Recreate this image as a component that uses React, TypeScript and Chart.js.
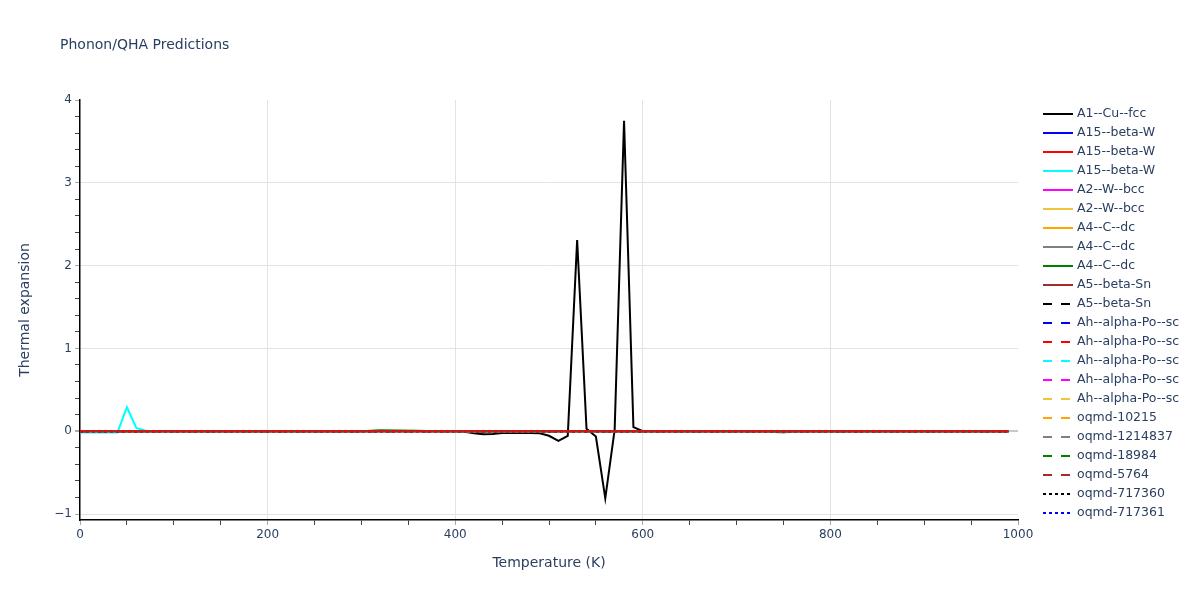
import React, { useEffect, useRef } from "react";
import { Chart, registerables } from "chart.js";

Chart.register(...registerables);

// ---------- data ----------
const seriesNames = [
  "A1--Cu--fcc",
  "A15--beta-W",
  "A15--beta-W",
  "A15--beta-W",
  "A2--W--bcc",
  "A2--W--bcc",
  "A4--C--dc",
  "A4--C--dc",
  "A4--C--dc",
  "A5--beta-Sn",
  "A5--beta-Sn",
  "Ah--alpha-Po--sc",
  "Ah--alpha-Po--sc",
  "Ah--alpha-Po--sc",
  "Ah--alpha-Po--sc",
  "Ah--alpha-Po--sc",
  "oqmd-10215",
  "oqmd-1214837",
  "oqmd-18984",
  "oqmd-5764",
  "oqmd-717360",
  "oqmd-717361",
];
const seriesColors = [
  "#000000", "#0000ff", "#ff0000", "#00ffff", "#ff00ff", "#f0c43c", "#ffa500", "#808080", "#008000", "#a52a2a",
  "#000000", "#0000ff", "#ff0000", "#00ffff", "#ff00ff", "#f0c43c", "#ffa500", "#808080", "#008000", "#a52a2a",
  "#000000", "#0000ff",
];
const seriesDash = [
  "solid", "solid", "solid", "solid", "solid", "solid", "solid", "solid", "solid", "solid",
  "dash", "dash", "dash", "dash", "dash", "dash", "dash", "dash", "dash", "dash",
  "dot", "dot",
];

// A1--Cu--fcc
const cuTemps = [0, 400, 410, 420, 430, 440, 450, 460, 470, 480, 490, 500, 510, 520, 530, 540, 550, 560, 570, 580, 590, 600, 610, 720, 730, 740, 750, 760, 770, 990];
const cuValues = [0, 0, -0.005, -0.025, -0.035, -0.032, -0.022, -0.02, -0.02, -0.022, -0.025, -0.055, -0.116, -0.055, 2.31, 0.03, -0.064, -0.81, 0.02, 3.75, 0.05, 0.0, 0, 0, -0.004, -0.01, -0.013, -0.006, 0, 0];

// A15--beta-W (cyan)
const cyanTemps = [0, 10, 20, 30, 40, 50, 60, 70, 80, 990];
const cyanValues = [-0.015, -0.015, -0.015, -0.015, -0.015, 0.29, 0.04, 0.005, 0, 0];

// A4--C--dc (green)
const greenTemps = [0, 300, 320, 340, 360, 380, 990];
const greenValues = [0, 0, 0.012, 0.01, 0.006, 0, 0];

// flat series
const flatTemps = [0, 990];
const flatValues = [0, 0];

const xTickLabels = [0, 200, 400, 600, 800, 1000];
const xTickPositions = [0, 50, 100, 150, 200, 250, 300, 350, 400, 450, 500, 550, 600, 650, 700, 750, 800, 850, 900, 950, 1000];
const yTickLabels = [-1, 0, 1, 2, 3, 4];
const yTickPositions = [-1, -0.8, -0.6, -0.4, -0.2, 0, 0.2, 0.4, 0.6, 0.8, 1, 1.2, 1.4, 1.6, 1.8, 2, 2.2, 2.4, 2.6, 2.8, 3, 3.2, 3.4, 3.6, 3.8, 4];

// ---------- helpers ----------
const FONT = "'DejaVu Sans', Verdana, sans-serif";
const TEXT = "#2a3f5f";

function dashFor(style: string, i: number): number[] {
  if (i === 12) return [3, 3];
  if (style === "dash") return [9, 9];
  if (style === "dot") return [3, 3];
  return [];
}

function pts(t: number[], v: number[]) {
  return t.map((x, i) => ({ x, y: v[i] }));
}

function dataFor(i: number) {
  if (i === 0) return pts(cuTemps, cuValues);
  if (i === 3) return pts(cyanTemps, cyanValues);
  if (i === 8) return pts(greenTemps, greenValues);
  return pts(flatTemps, flatValues);
}

// drawing order: lower order -> on top (later traces on top, red dashed topmost over brown)
function orderFor(i: number) {
  if (i === 12) return -2;
  if (i === 9) return -1;
  return 22 - i;
}

const isNear = (v: number, list: number[]) => list.some((l) => Math.abs(v - l) < 1e-6);

const overlayPlugin = {
  id: "overlay",
  afterDraw(chart: any) {
    const ctx = chart.ctx as CanvasRenderingContext2D;
    const area = chart.chartArea;
    ctx.save();
    ctx.fillStyle = TEXT;
    ctx.font = `14px ${FONT}`;
    ctx.textAlign = "left";
    ctx.textBaseline = "middle";
    ctx.fillText("Phonon/QHA Predictions", 60, 45);
    ctx.textAlign = "center";
    ctx.fillText("Temperature (K)", (area.left + area.right) / 2, 563);
    ctx.save();
    ctx.translate(25, (area.top + area.bottom) / 2);
    ctx.rotate(-Math.PI / 2);
    ctx.fillText("Thermal expansion", 0, 0);
    ctx.restore();
    // legend
    ctx.font = `12.5px ${FONT}`;
    ctx.textAlign = "left";
    chart.data.datasets.forEach((ds: any, i: number) => {
      const y = 114 + 19 * i;
      ctx.beginPath();
      ctx.setLineDash(seriesDash[i] === "dash" ? [9, 9] : seriesDash[i] === "dot" ? [3, 3] : []);
      ctx.strokeStyle = ds.borderColor;
      ctx.lineWidth = 2;
      ctx.moveTo(1043, y);
      ctx.lineTo(1073, y);
      ctx.stroke();
      ctx.setLineDash([]);
      ctx.fillStyle = TEXT;
      ctx.fillText(ds.label, 1077, y);
    });
    ctx.restore();
  },
};

export default function App() {
  const ref = useRef<HTMLCanvasElement | null>(null);
  useEffect(() => {
    if (!ref.current) return;
    const datasets = seriesNames.map((name, i) => ({
      label: name,
      data: dataFor(i),
      borderColor: seriesColors[i],
      backgroundColor: seriesColors[i],
      borderWidth: 2,
      borderDash: dashFor(seriesDash[i], i),
      pointRadius: 0,
      fill: false,
      tension: 0,
      order: orderFor(i),
    }));
    const chart = new Chart(ref.current, {
      type: "line",
      data: { datasets },
      options: {
        responsive: false,
        animation: false,
        layout: { padding: { top: 100, right: 182, left: 0, bottom: 0 } },
        plugins: {
          legend: { display: false },
          title: { display: false },
          tooltip: { enabled: false },
        },
        scales: {
          x: {
            type: "linear",
            min: 0,
            max: 1000,
            afterBuildTicks: (s: any) => {
              s.ticks = xTickPositions.map((v) => ({ value: v }));
            },
            afterFit: (s: any) => {
              s.height = 80;
            },
            border: { color: "#000", width: 1.5 },
            grid: {
              color: (c: any) =>
                c.tick && isNear(c.tick.value, xTickLabels) && c.tick.value > 0 && c.tick.value < 1000 ? "#e3e3e3" : "rgba(0,0,0,0)",
              tickColor: (c: any) => (c.tick && isNear(c.tick.value, xTickLabels) ? "#aaaaaa" : "#444444"),
              tickLength: 5,
              lineWidth: 1,
            },
            ticks: {
              autoSkip: false,
              maxRotation: 0,
              padding: 3,
              color: TEXT,
              font: { family: FONT, size: 12 },
              callback: (v: any) => (isNear(Number(v), xTickLabels) ? String(Math.round(Number(v))) : ""),
            },
          },
          y: {
            type: "linear",
            min: -1.072,
            max: 4,
            afterBuildTicks: (s: any) => {
              s.ticks = yTickPositions.map((v) => ({ value: v }));
            },
            afterFit: (s: any) => {
              s.width = 80;
            },
            border: { color: "#000", width: 1.5 },
            grid: {
              color: (c: any) => {
                if (!c.tick) return "rgba(0,0,0,0)";
                const v = c.tick.value;
                if (Math.abs(v - 4) < 1e-6) return "rgba(0,0,0,0)";
                if (Math.abs(v) < 1e-6) return "#c8c8c8";
                return isNear(v, yTickLabels) ? "#e3e3e3" : "rgba(0,0,0,0)";
              },
              lineWidth: (c: any) => (c.tick && Math.abs(c.tick.value) < 1e-6 ? 2 : 1),
              tickColor: (c: any) => (c.tick && isNear(c.tick.value, yTickLabels) ? "#aaaaaa" : "#444444"),
              tickLength: 5,
            },
            ticks: {
              autoSkip: false,
              padding: 3,
              color: TEXT,
              font: { family: FONT, size: 12 },
              callback: (v: any) => {
                const n = Number(v);
                if (!isNear(n, yTickLabels)) return "";
                const r = Math.round(n);
                return r < 0 ? "\u2212" + Math.abs(r) : String(r);
              },
            },
          },
        },
      },
      plugins: [overlayPlugin],
    });
    return () => chart.destroy();
  }, []);
  return (
    <div style={{ position: "fixed", left: 0, top: 0, width: 1200, height: 600, background: "#fff" }}>
      <canvas ref={ref} width={1200} height={600} style={{ width: 1200, height: 600 }} />
    </div>
  );
}
